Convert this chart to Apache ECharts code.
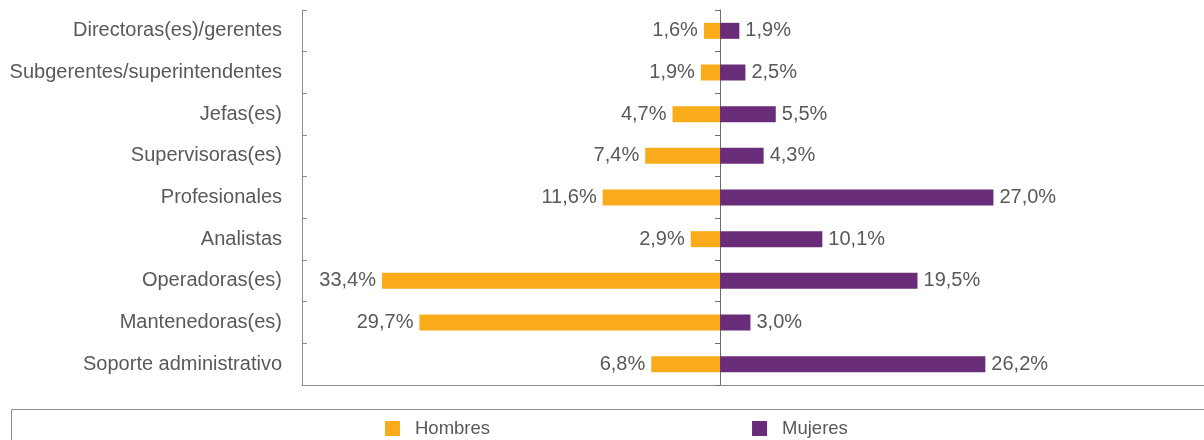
<!DOCTYPE html>
<html>
<head>
<meta charset="utf-8">
<script src="https://cdn.jsdelivr.net/npm/echarts@6/dist/echarts.min.js"></script>
<style>
  html, body { margin: 0; padding: 0; background: #fff; }
  #chart { width: 1204px; height: 440px; }
</style>
</head>
<body>
<div id="chart"></div>
<script>
// categorías (de arriba hacia abajo)
const categories = [
  'Directoras(es)/gerentes',
  'Subgerentes/superintendentes',
  'Jefas(es)',
  'Supervisoras(es)',
  'Profesionales',
  'Analistas',
  'Operadoras(es)',
  'Mantenedoras(es)',
  'Soporte administrativo'
]
const hombres = [1.6, 1.9, 4.7, 7.4, 11.6, 2.9, 33.4, 29.7, 6.8]
const mujeres = [1.9, 2.5, 5.5, 4.3, 27.0, 10.1, 19.5, 3.0, 26.2]

const FONT = '"Liberation Sans", Arial, sans-serif'
const TEXT = '#595959'
const AXIS = '#8c8c8c'

const fmt = v => Math.abs(v).toFixed(1).replace('.', ',') + '%'

const chart = echarts.init(document.getElementById('chart'))

chart.setOption({
  animation: false,
  textStyle: { fontFamily: FONT },
  // marco de la leyenda
  graphic: [{
    type: 'rect',
    left: 9,
    top: 407,
    shape: { width: 1300, height: 60 },
    style: { fill: 'none', stroke: AXIS, lineWidth: 1 },
    silent: true
  }],
  legend: {
    left: 385,
    top: 419,
    padding: 0,
    itemWidth: 15,
    itemHeight: 15,
    itemGap: 262,
    icon: 'rect',
    textStyle: { fontFamily: FONT, fontSize: 18.5, color: TEXT, padding: [0, 0, 0, 10] },
    data: ['Hombres', 'Mujeres']
  },
  grid: { left: 302, right: 0, top: 10, bottom: 55, outerBoundsMode: 'none' },
  xAxis: {
    type: 'value',
    min: -41.3,
    max: 47.8,
    axisLine: { show: true, onZero: false, lineStyle: { color: AXIS, width: 1 } },
    axisTick: { show: false },
    axisLabel: { show: false },
    splitLine: { show: false }
  },
  yAxis: [
    {
      // eje central en cero
      type: 'category',
      data: categories,
      inverse: true,
      axisLine: { show: true, onZero: true, lineStyle: { color: '#6e6e6e' } },
      axisTick: { show: true, length: 5, lineStyle: { color: '#6e6e6e' } },
      axisLabel: { show: false }
    },
    {
      // eje izquierdo con etiquetas
      type: 'category',
      data: categories,
      inverse: true,
      position: 'left',
      axisLine: { show: true, onZero: false, lineStyle: { color: AXIS } },
      axisTick: { show: true, inside: true, length: 5, lineStyle: { color: AXIS } },
      axisLabel: { margin: 20, fontFamily: FONT, fontSize: 20, color: TEXT }
    }
  ],
  series: [
    {
      name: 'Hombres',
      type: 'bar',
      stack: 'total',
      barWidth: 16,
      itemStyle: { color: '#F9AB1A' },
      label: {
        show: true,
        position: 'left',
        distance: 6,
        fontFamily: FONT,
        fontSize: 20,
        color: TEXT,
        formatter: p => fmt(p.value)
      },
      data: hombres.map(v => -v)
    },
    {
      name: 'Mujeres',
      type: 'bar',
      stack: 'total',
      barWidth: 16,
      itemStyle: { color: '#692C79' },
      label: {
        show: true,
        position: 'right',
        distance: 6,
        fontFamily: FONT,
        fontSize: 20,
        color: TEXT,
        formatter: p => fmt(p.value)
      },
      data: mujeres
    }
  ]
})
</script>
</body>
</html>
